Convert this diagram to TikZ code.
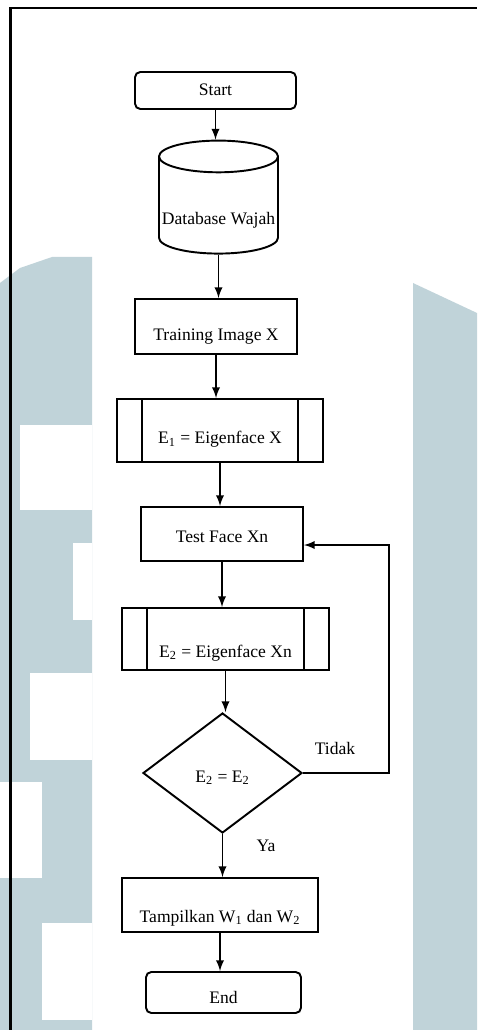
\documentclass[tikz,border=0pt]{standalone}
\usepackage{fontspec}
\setmainfont{Liberation Serif}
\usetikzlibrary{%
  arrows,%
  shapes.geometric,%
  shapes.symbols%
}
\definecolor{wmark}{RGB}{192,211,217}
\tikzset{>=latex,%
  box/.style={draw,line width=1.1pt,font=\fontsize{10}{12}\selectfont,inner sep=0pt},
  lowtext/.style={text height=#1,text depth=0pt},
  proc/.style={box,rectangle},
  term/.style={box,rounded corners=3pt},
  subproc/.style={proc,append after command={
      ([xshift=0.52cm]\tikzlastnode.north west) edge[line width=1.1pt] ([xshift=0.52cm]\tikzlastnode.south west)
      ([xshift=-0.52cm]\tikzlastnode.north east) edge[line width=1.1pt] ([xshift=-0.52cm]\tikzlastnode.south east)}},
  dbase/.style={box,cylinder,shape border rotate=90,aspect=0.28},
  cond/.style={box,diamond,aspect=1.33},
  lab/.style={font=\fontsize{10}{12}\selectfont},
  flow/.style={->,line width=1.1pt}}

\begin{document}
\begin{tikzpicture}[x=0.02cm,y=-0.02cm]
  \useasboundingbox (0,0) rectangle (477,1030);
  % faded blocks behind the chart
  \fill[wmark] (0,283) -- (20,268) -- (52,257) -- (92,257) -- (92,1030) -- (0,1030) -- cycle;
  \fill[wmark] (413,283) -- (477,313) -- (477,1030) -- (413,1030) -- cycle;
  \foreach \a/\b/\c/\d in {20/425/92/510, 73/543/92/620, 30/673/92/760,
                           0/782/42/878, 42/923/92/1020}
    \fill[white] (\a,\b) rectangle (\c,\d);
  \draw[line width=1.5pt] (10.5,1030) -- (10.5,8) -- (477,8);

  \node[term,minimum width=3.22cm,minimum height=0.74cm,lowtext=0.2cm] (start) at (215.5,90.5) {Start};
  \node[dbase,minimum width=2.38cm,minimum height=2.26cm,lowtext=0.78cm] (db) at (218.5,205.5) {Database Wajah};
  \node[proc,minimum width=3.24cm,minimum height=1.1cm,lowtext=0.58cm] (train) at (216,326.5) {Training Image X};
  \node[subproc,minimum width=4.12cm,minimum height=1.26cm,lowtext=0.54cm] (eig1) at (220,430.5) {E\textsubscript{1} = Eigenface X};
  \node[proc,minimum width=3.24cm,minimum height=1.08cm,lowtext=0.32cm] (test) at (222,534) {Test Face Xn};
  \node[subproc,minimum width=4.14cm,minimum height=1.24cm,lowtext=0.72cm] (eig2) at (225.5,639) {E\textsubscript{2} = Eigenface Xn};
  \node[cond,minimum width=3.18cm,minimum height=2.4cm,lowtext=0.36cm] (cek) at (222.5,773) {E\textsubscript{2} = E\textsubscript{2}};
  \node[proc,minimum width=3.92cm,minimum height=1.08cm,lowtext=0.68cm] (show) at (220,905) {Tampilkan W\textsubscript{1} dan W\textsubscript{2}};
  \node[term,minimum width=3.1cm,minimum height=0.82cm,lowtext=0.42cm] (end) at (223.5,992.5) {End};

  \node[lab] (tidak) at (335,748) {Tidak};
  \node[lab] (ya) at (266,846) {Ya};

  \draw[flow] (start) -- (start |- db.north);
  \draw[flow] (db) -- (db |- train.north);
  \draw[flow] (train) -- (train |- eig1.north);
  \draw[flow] (eig1) -- (eig1 |- test.north);
  \draw[flow] (test) -- (test |- eig2.north);
  \draw[flow] (eig2) -- (eig2 |- cek.north);
  \draw[flow] (cek) -- (cek |- show.north);
  \draw[flow] (show) -- (show |- end.north);
  \coordinate (back) at (389,545);
  \draw[flow] (cek.east) -| (back) -- (test.east |- back);
\end{tikzpicture}
\end{document}
